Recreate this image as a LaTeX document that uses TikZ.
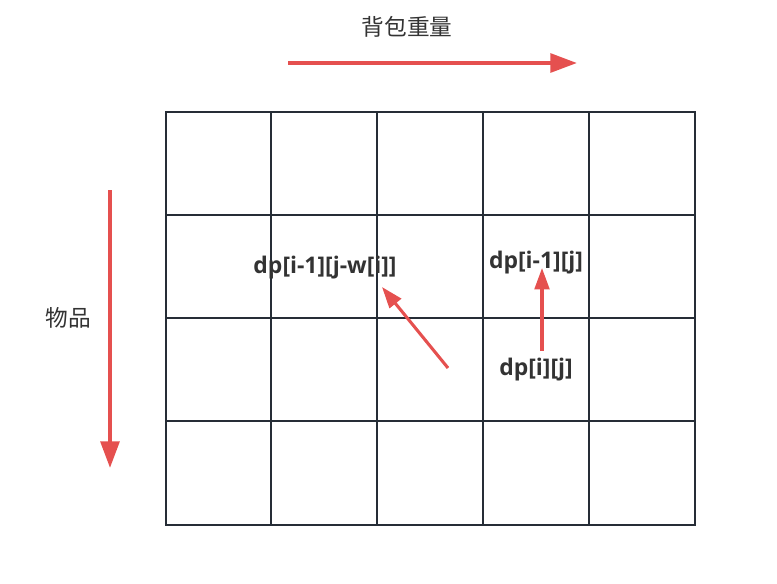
\documentclass[tikz,border=0pt]{standalone}
\usepackage{fontspec}
\setmainfont{Open Sans}
\newfontfamily\cjkfont{Noto Sans CJK SC}
\usetikzlibrary{positioning, arrows.meta}
\definecolor{gridline}{HTML}{262D36}
\definecolor{arrowred}{HTML}{E5504F}
\definecolor{labelgray}{HTML}{333333}

\begin{document}
\begin{tikzpicture}[x=0.75pt, y=-0.75pt,
  cell/.style={draw=gridline, line width=2.2pt},
  axis/.style={draw=arrowred, line width=3pt, -{Triangle[length=20pt, width=14pt]}},
  move/.style={draw=arrowred, line width=2.3pt, -{Triangle[length=16pt, width=11pt]}},
  axislabel/.style={text=labelgray, font=\cjkfont\fontsize{17}{20}\selectfont, inner sep=0pt},
  cellval/.style={text=labelgray, font=\bfseries\fontsize{17.2}{20}\selectfont, inner sep=0pt}]
  \useasboundingbox (0,0) rectangle (777,583);

  % table
  \draw[cell] (166,112) rectangle (695,525);
  \foreach \x in {271,377,483,589}
    \draw[cell] (\x,112) -- (\x,525);
  \foreach \y in {215,318,421}
    \draw[cell] (166,\y) -- (695,\y);

  % axes
  \node[axislabel] (weight) at (407,27) {背包重量};
  \node[axislabel] (items) at (68,318) {物品};
  \coordinate (wfrom) at (288,63);
  \coordinate (wto) at (577,63);
  \coordinate (ifrom) at (110,190);
  \coordinate (ito) at (110,468);
  \draw[axis] (wfrom) -- (wto);
  \draw[axis] (ifrom) -- (ito);

  % dp cells
  \node[cellval] (diag) at (325,268) {dp[i-1][j-w[i]]};
  \node[cellval] (up) at (536,263) {dp[i-1][j]};
  \node[cellval] (cur) at (536,370) {dp[i][j]};
  \coordinate (dfrom) at (448,368);
  \coordinate (dto) at (382,287);
  \coordinate (ufrom) at (542,351);
  \coordinate (uto) at (542,268);
  \draw[move] (dfrom) -- (dto);
  \draw[move] (ufrom) -- (uto);
\end{tikzpicture}
\end{document}
